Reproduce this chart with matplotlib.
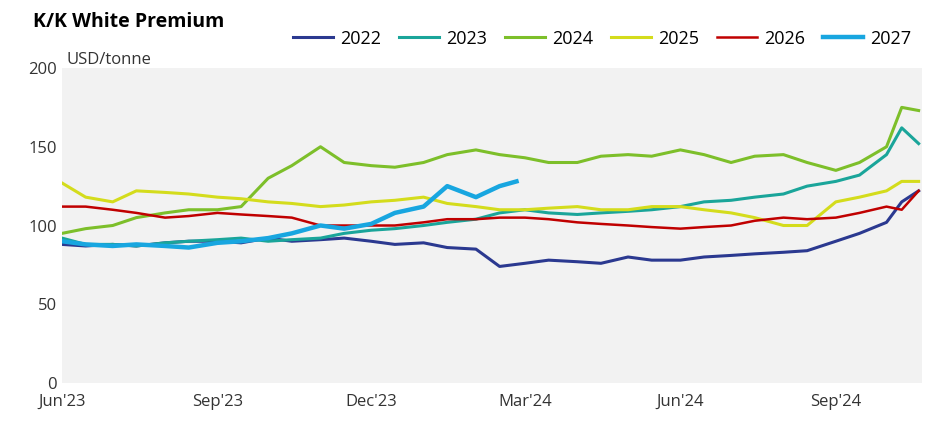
import matplotlib.pyplot as plt
import matplotlib.dates as mdates
import pandas as pd

plt.rcParams['font.family'] = ['Open Sans', 'DejaVu Sans']

dates = pd.to_datetime(['2023-06-01', '2023-06-15', '2023-07-01', '2023-07-15', '2023-08-01', '2023-08-15',
                        '2023-09-01', '2023-09-15', '2023-10-01', '2023-10-15', '2023-11-01', '2023-11-15',
                        '2023-12-01', '2023-12-15', '2024-01-01', '2024-01-15', '2024-02-01', '2024-02-15',
                        '2024-03-01', '2024-03-15', '2024-04-01', '2024-04-15', '2024-05-01', '2024-05-15',
                        '2024-06-01', '2024-06-15', '2024-07-01', '2024-07-15', '2024-08-01', '2024-08-15',
                        '2024-09-01', '2024-09-15', '2024-10-01', '2024-10-10', '2024-10-20'])

s2022 = [88, 87, 88, 87, 89, 90, 90, 89, 92, 90, 91, 92, 90, 88, 89, 86, 85, 74, 76, 78, 77, 76, 80, 78,
         78, 80, 81, 82, 83, 84, 90, 95, 102, 115, 122]
s2023 = [92, 88, 88, 87, 89, 90, 91, 92, 90, 91, 92, 95, 97, 98, 100, 102, 104, 108, 110, 108, 107, 108, 109, 110,
         112, 115, 116, 118, 120, 125, 128, 132, 145, 162, 152]
s2024 = [95, 98, 100, 105, 108, 110, 110, 112, 130, 138, 150, 140, 138, 137, 140, 145, 148, 145, 143, 140, 140, 144, 145, 144,
         148, 145, 140, 144, 145, 140, 135, 140, 150, 175, 173]
s2025 = [127, 118, 115, 122, 121, 120, 118, 117, 115, 114, 112, 113, 115, 116, 118, 114, 112, 110, 110, 111, 112, 110, 110, 112,
         112, 110, 108, 105, 100, 100, 115, 118, 122, 128, 128]
s2026 = [112, 112, 110, 108, 105, 106, 108, 107, 106, 105, 100, 100, 100, 100, 102, 104, 104, 105, 105, 104, 102, 101, 100, 99,
         98, 99, 100, 103, 105, 104, 105, 108, 112, 110, 122]
d2027 = dates[:18].append(pd.to_datetime(['2024-02-25']))
s2027 = [90, 88, 87, 88, 87, 86, 89, 90, 92, 95, 100, 98, 101, 108, 112, 125, 118, 125, 128]

fig = plt.figure(figsize=(9.45, 4.43), dpi=100)
ax = fig.add_axes([62/945, 60/443, 860/945, 315/443])
ax.set_facecolor('#f2f2f2')

series = [('2022', dates, s2022, '#2b3990', 2.2), ('2023', dates, s2023, '#1aa59a', 2.2),
          ('2024', dates, s2024, '#7dbf2a', 2.2), ('2025', dates, s2025, '#d4dc1c', 2.2),
          ('2026', dates, s2026, '#c00000', 1.8), ('2027', d2027, s2027, '#18a6e0', 3.2)]
for name, d, v, c, lw in series:
    ax.plot(d, v, color=c, lw=lw, label=name)

ax.set_ylim(0, 200)
ax.set_xlim(pd.Timestamp('2023-06-01'), pd.Timestamp('2024-10-22'))
ax.set_yticks([0, 50, 100, 150, 200])
ax.xaxis.set_major_locator(mdates.MonthLocator(bymonth=[3, 6, 9, 12]))
ax.xaxis.set_major_formatter(mdates.DateFormatter("%b'%y"))
for s in ax.spines.values():
    s.set_visible(False)
ax.tick_params(length=0, labelsize=12, colors='#333333')
ax.tick_params(axis='x', pad=8)

fig.text(0.035, 0.94, 'K/K White Premium', fontsize=14, fontweight='bold')
fig.text(67/945, 0.855, 'USD/tonne', fontsize=12, color='#333333')
ax.legend(loc='lower right', bbox_to_anchor=(1.0, 1.03), ncol=6, frameon=False, fontsize=13,
          handlelength=2.2, columnspacing=1.0, handletextpad=0.4, borderaxespad=0.2)

fig.savefig('out.png')
